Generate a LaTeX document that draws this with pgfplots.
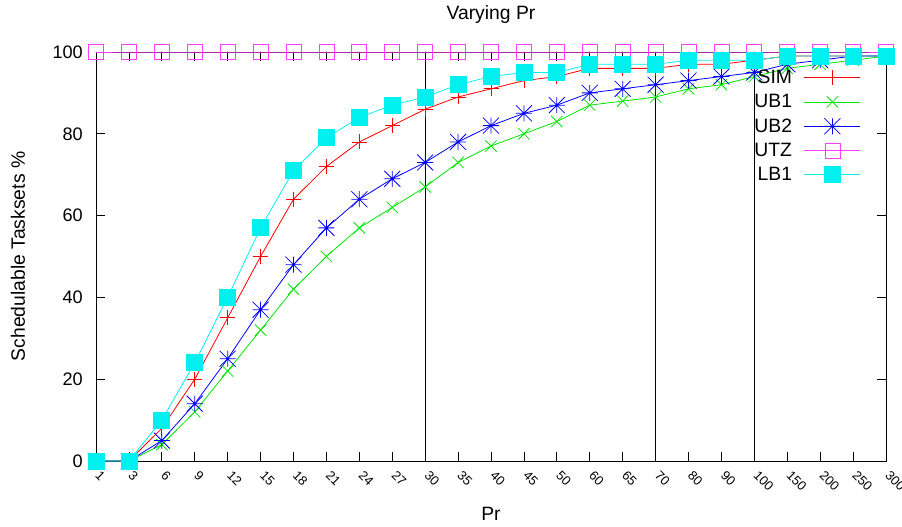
\documentclass[border=0pt]{standalone}
\usepackage{pgfplots}
\usepackage{pgfplotstable}
\pgfplotsset{compat=1.18}
\usepackage{fontspec}
\setmainfont{Liberation Sans}
\definecolor{gpred}{RGB}{255,0,0}
\definecolor{gpgreen}{RGB}{0,230,0}
\definecolor{gpblue}{RGB}{0,0,255}
\definecolor{gpmag}{RGB}{255,60,255}
\definecolor{gpcyan}{RGB}{0,240,240}
\pgfdeclareplotmark{gpstar}{%
  \pgfpathmoveto{\pgfqpoint{-\pgfplotmarksize}{0pt}}\pgfpathlineto{\pgfqpoint{\pgfplotmarksize}{0pt}}%
  \pgfpathmoveto{\pgfqpoint{0pt}{-\pgfplotmarksize}}\pgfpathlineto{\pgfqpoint{0pt}{\pgfplotmarksize}}%
  \pgfpathmoveto{\pgfqpoint{-\pgfplotmarksize}{-\pgfplotmarksize}}\pgfpathlineto{\pgfqpoint{\pgfplotmarksize}{\pgfplotmarksize}}%
  \pgfpathmoveto{\pgfqpoint{-\pgfplotmarksize}{\pgfplotmarksize}}\pgfpathlineto{\pgfqpoint{\pgfplotmarksize}{-\pgfplotmarksize}}%
  \pgfusepathqstroke}
\pgfdeclareplotmark{gpsqdot}{%
  \pgfpathrectangle{\pgfqpoint{-\pgfplotmarksize}{-\pgfplotmarksize}}{\pgfqpoint{2\pgfplotmarksize}{2\pgfplotmarksize}}%
  \pgfusepathqstroke
  \pgfpathcircle{\pgfpointorigin}{0.6pt}\pgfusepathqfill}
\pgfplotstableread{
idx SIM UBone UBtwo UTZ LBone
0  0  0  0  100 0
1  0  0  0  100 0
2  8  4  5  100 10
3  20 12 14 100 24
4  35 22 25 100 40
5  50 32 37 100 57
6  64 42 48 100 71
7  72 50 57 100 79
8  78 57 64 100 84
9  82 62 69 100 87
10 86 67 73 100 89
11 89 73 78 100 92
12 91 77 82 100 94
13 93 80 85 100 95
14 94 83 87 100 95
15 96 87 90 100 97
16 96 88 91 100 97
17 96 89 92 100 97
18 97 91 93 100 98
19 97 92 94 100 98
20 98 94 95 100 98
21 99 96 97 100 99
22 99 97 98 100 99
23 99 98 99 100 99
24 99 99 99 100 99
}\datatable
\newcommand{\gpfont}{\fontsize{19.4}{23}\selectfont}
\newcommand{\ytfont}{\fontsize{18.2}{22}\selectfont}
\newcommand{\xtfont}{\fontsize{13}{15}\selectfont}
\begin{document}
\begin{tikzpicture}[font=\gpfont]
\begin{axis}[
  scale only axis,
  width=790bp, height=409bp,
  xmin=0, xmax=24, ymin=0, ymax=100,
  xtick={0,...,24},
  xticklabels={1,3,6,9,12,15,18,21,24,27,30,35,40,45,50,60,65,70,80,90,100,150,200,250,300},
  ytick={0,20,40,60,80,100},
  yticklabels={0,20,40,60,80,100},
  tick align=inside,
  major tick length=9bp,
  tick style={black, line width=0.8bp},
  axis line style={black, line width=0.8bp},
  yticklabel style={font=\ytfont, inner sep=0pt, xshift=-13bp},
  xticklabel style={xshift=5bp, yshift=-9bp, rotate=-45, anchor=north west, inner sep=0pt, font=\xtfont},
  extra x ticks={10,17,20},
  extra x tick labels={},
  extra x tick style={grid=major, major grid style={black, line width=0.8bp}, major tick length=0pt},
  title={Varying Pr},
  title style={at={(axis description cs:0.5,1)}, anchor=base, yshift=26.5bp, font=\gpfont},
  xlabel={Pr},
  ylabel={Schedulable Tasksets \%},
  xlabel style={at={(axis description cs:0.5,0)}, anchor=base, yshift=-59bp, font=\gpfont},
  ylabel style={at={(axis description cs:0,0.5)}, anchor=center, yshift=78bp, font=\gpfont},
  clip=false,
  legend cell align=right,
  legend plot pos=right,
  legend style={draw=none, fill=none, at={(axis description cs:1,1)}, anchor=north east,
    xshift=-22bp, yshift=-15bp, row sep=7.4bp, column sep=11bp,
    nodes={inner sep=1bp, font=\gpfont}},
  legend image code/.code={\draw[mark repeat=2,mark phase=2,#1] plot coordinates {(0bp,0bp) (28bp,0bp) (56bp,0bp)};},
  every axis plot/.append style={line width=0.8bp},
]
\addplot[color=gpred, mark=+, mark size=7.5bp, mark options={solid}] table[x=idx, y=SIM] {\datatable};
\addlegendentry{SIM}
\addplot[color=gpgreen, mark=x, mark size=8bp, mark options={solid}] table[x=idx, y=UBone] {\datatable};
\addlegendentry{UB1}
\addplot[color=gpblue, mark=gpstar, mark size=8bp, mark options={solid}] table[x=idx, y=UBtwo] {\datatable};
\addlegendentry{UB2}
\addplot[color=gpmag, mark=gpsqdot, mark size=7.5bp, mark options={solid}] table[x=idx, y=UTZ] {\datatable};
\addlegendentry{UTZ}
\addplot[color=gpcyan, mark=square*, mark size=8bp, mark options={solid, fill=gpcyan, draw=gpcyan}] table[x=idx, y=LBone] {\datatable};
\addlegendentry{LB1}
\end{axis}
\pgfresetboundingbox
\path (current axis.south west) ++(-96bp,-66bp) coordinate (bbA);
\path (current axis.north east) ++(16bp,52bp) coordinate (bbB);
\useasboundingbox (bbA) rectangle (bbB);
\end{tikzpicture}
\end{document}
